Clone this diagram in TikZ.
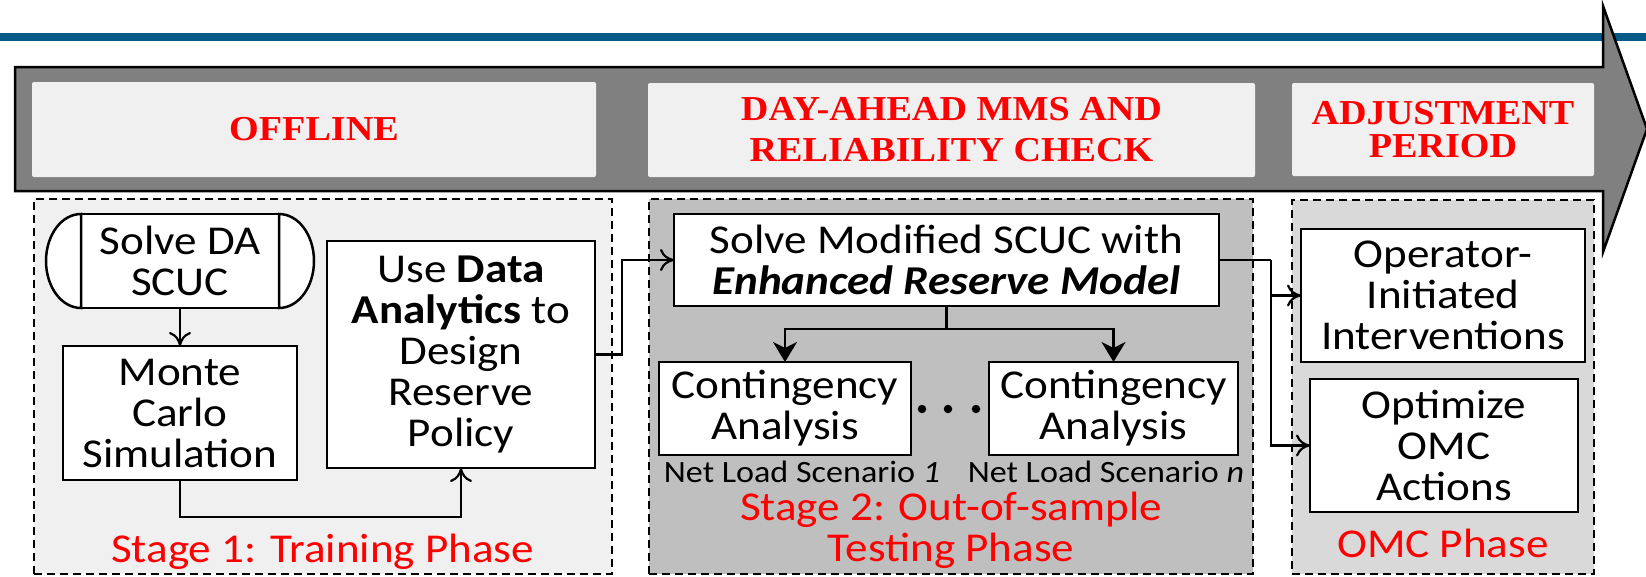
\documentclass[tikz,border=0pt]{standalone}
\usepackage{fontspec}
\setmainfont{Carlito}[FakeStretch=1.1]
\newfontfamily\headfont{Liberation Serif}[FakeStretch=1.09]
\usetikzlibrary{arrows.meta}
\definecolor{topblue}{RGB}{5,90,135}
\definecolor{arrowgray}{RGB}{128,128,128}
\definecolor{paleg}{RGB}{240,240,240}
\definecolor{midg}{RGB}{191,191,191}
\definecolor{lightg}{RGB}{217,217,217}
\definecolor{labred}{RGB}{255,0,0}
\begin{document}
\begin{tikzpicture}[x=1pt,y=-1pt,
  every node/.style={inner sep=0pt, outer sep=0pt},
  headbox/.style={fill=paleg, rounded corners=2pt, text=labred, align=center,
    font=\headfont\bfseries\fontsize{35}{41}\selectfont},
  stagebox/.style={draw=black, line width=2.6pt, dash pattern=on 8pt off 5pt},
  procbox/.style={draw=black, fill=white, line width=2.5pt, align=center,
    font=\fontsize{41}{41}\selectfont},
  redlabel/.style={text=labred, align=center, font=\fontsize{41}{41}\selectfont},
  scenlabel/.style={font=\fontsize{31}{36}\selectfont, anchor=base},
  conn/.style={line width=2.2pt},
  openarrow/.style={-{Computer Modern Rightarrow[length=14pt,width=22pt,line width=2.2pt]}},
  fillarrow/.style={-{Stealth[length=20pt,width=24pt,inset=6pt]}},
  dotnode/.style={circle, fill=black, minimum size=8.5pt}
]
\useasboundingbox (0,0) rectangle (1646,576);

% top blue rule
\fill[topblue] (0,33) rectangle (1646,41);

% big timeline arrow
\draw[line width=2.5pt, fill=arrowgray, line join=miter]
  (15,67) -- (1603,67) -- (1603,6) -- (1647,129) -- (1603,252) -- (1603,191) -- (15,191) -- cycle;

% header boxes
\node[headbox, minimum width=564pt, minimum height=95pt] (hoff) at (314,129.5) {OFFLINE};
\node[headbox, minimum width=607pt, minimum height=94pt] (hday) at (951.5,130) {DAY-AHEAD MMS AND\\RELIABILITY CHECK};
\node[headbox, minimum width=302pt, minimum height=93pt,
  font=\headfont\bfseries\fontsize{35}{33}\selectfont] (hadj) at (1443,129.5) {ADJUSTMENT\\PERIOD};

% stage boxes
\node[stagebox, fill=paleg, minimum width=578pt, minimum height=375pt] (st1) at (323,386.5) {};
\node[stagebox, fill=midg, minimum width=604pt, minimum height=375pt] (st2) at (951,386.5) {};
\node[stagebox, fill=lightg, minimum width=302pt, minimum height=374pt] (st3) at (1443,387) {};

% stage labels
\node[redlabel, anchor=base] (lab1) at (322.5,562) {Stage 1: Training Phase};
\node[redlabel] (lab2) at (951,530) {Stage 2: Out-of-sample\\Testing Phase};
\node[redlabel, anchor=base] (lab3) at (1443,557) {OMC Phase};

% stage 1
\node[procbox, minimum width=198pt, minimum height=94pt] (solve) at (180,261) {Solve DA\\SCUC};
\draw[line width=2.5pt, fill=white] (solve.north west) arc[start angle=90, end angle=270, x radius=35pt, y radius=47pt] -- cycle;
\draw[line width=2.5pt, fill=white] (solve.north east) arc[start angle=90, end angle=-90, x radius=35pt, y radius=47pt] -- cycle;
\node[procbox, minimum width=234pt, minimum height=134pt] (mc) at (180,413) {Monte\\Carlo\\Simulation};
\node[procbox, minimum width=268pt, minimum height=227pt] (data) at (461,354.5) {Use \textbf{Data}\\\textbf{Analytics} to\\Design\\Reserve\\Policy};

% stage 2
\node[procbox, minimum width=545pt, minimum height=92pt] (mod) at (946.5,260) {Solve Modified SCUC with\\\textbf{\textit{Enhanced Reserve Model}}};
\node[procbox, minimum width=252pt, minimum height=93pt] (ca1) at (785,408.5) {Contingency\\Analysis};
\node[procbox, minimum width=249pt, minimum height=93pt] (ca2) at (1113.5,408.5) {Contingency\\Analysis};
\node[dotnode] (d1) at (922,409) {};
\node[dotnode] (d2) at (948,409) {};
\node[dotnode] (d3) at (976,409) {};
\node[scenlabel] (sc1) at (802,482) {Net Load Scenario \textit{1}};
\node[scenlabel] (sc2) at (1106,482) {Net Load Scenario \textit{n}};

% stage 3
\node[procbox, minimum width=284pt, minimum height=133pt] (oper) at (1443,295.5) {Operator-\\Initiated\\Interventions};
\node[procbox, minimum width=268pt, minimum height=133pt] (omc) at (1444,445.5) {Optimize\\OMC\\Actions};

% connectors
\draw[conn, openarrow] (solve.south) -- (mc.north);
\draw[conn, openarrow] (mc.south) -- ++(0,37) -| (data.south);
\draw[conn, openarrow] (data.east) -- ++(27,0) |- (mod.west);
\draw[conn] (mod.south) -- ++(0,23) coordinate (split);
\draw[conn, fillarrow] (split) -| (ca1.north);
\draw[conn, fillarrow] (split) -| (ca2.north);
\draw[conn] (mod.east) -- ++(52,0) coordinate (jr);
\draw[conn, openarrow] (jr) |- (omc.west);
\draw[conn, openarrow] (jr |- oper.west) -- (oper.west);
\end{tikzpicture}
\end{document}
